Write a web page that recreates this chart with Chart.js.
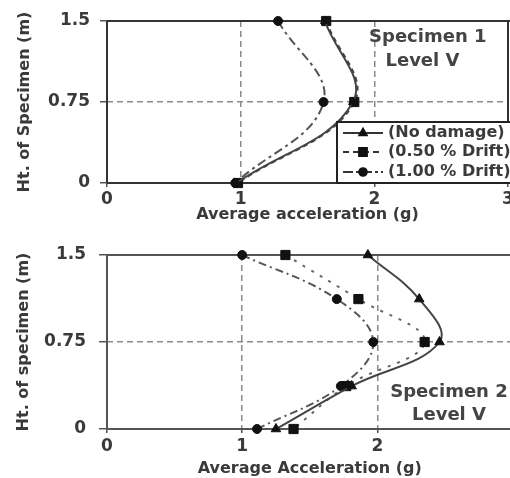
<!DOCTYPE html>
<html><head><meta charset="utf-8">
<script src="https://cdn.jsdelivr.net/npm/chart.js@4/dist/chart.umd.min.js"></script>
<style>
html,body{margin:0;padding:0;background:#fff;overflow:hidden;width:510px;height:478px;}
#wrap{position:relative;width:510px;height:478px;overflow:hidden;background:#fff;}
.box{position:absolute;left:0;}
#b1{top:0;width:520px;height:230px;}
#b2{top:230px;width:520px;height:248px;}
</style></head><body>
<div id="wrap">
<div class="box" id="b1"><canvas id="c1" width="520" height="230"></canvas></div>
<div class="box" id="b2"><canvas id="c2" width="520" height="248"></canvas></div>
</div>
<script>
// ---- data: Specimen 1 ----
const heights1 = [1.5, 0.75, 0];
const noDamage1 = [1.63, 1.84, 0.97];
const drift050_1 = [1.64, 1.85, 0.98];
const drift100_1 = [1.28, 1.62, 0.96];
// ---- data: Specimen 2 ----
const heights2 = [1.5, 1.12, 0.75, 0.37, 0];
const noDamage2 = [1.93, 2.31, 2.46, 1.81, 1.25];
const drift050_2 = [1.32, 1.86, 2.35, 1.77, 1.38];
const drift100_2 = [1.00, 1.70, 1.97, 1.73, 1.11];
// ---- ticks / labels ----
const xTicks = [0, 1, 2, 3];
const yTicks = [0, 0.75, 1.5];
const seriesNames = ['(No damage)', '(0.50 % Drift)', '(1.00 % Drift)'];

const FONT = 'DejaVu Sans';
const TXT = '#3a3a3a';

function pts(xs, ys) { return xs.map((v, i) => ({x: v, y: ys[i]})); }

function ds(label, xs, ys, style) {
  return Object.assign({
    label, data: pts(xs, ys), showLine: true, tension: 0.4,
    borderColor: '#444', borderWidth: 2, pointBackgroundColor: '#111',
    pointBorderColor: '#111', pointBorderWidth: 1, clip: false
  }, style);
}

const framePlugin = {
  id: 'frame',
  beforeDatasetsDraw(chart, args, opts) {
    const {ctx, chartArea: a} = chart;
    ctx.save();
    ctx.strokeStyle = opts.color; ctx.lineWidth = 2;
    ctx.beginPath();
    ctx.moveTo(a.left, a.top); ctx.lineTo(a.left, a.bottom);
    ctx.moveTo(a.left, a.top); ctx.lineTo(a.right + 10, a.top);
    ctx.moveTo(a.left, a.bottom); ctx.lineTo(a.right + 10, a.bottom);
    if (opts.right) { ctx.moveTo(a.right, a.top); ctx.lineTo(a.right, a.bottom); }
    ctx.stroke();
    ctx.restore();
  }
};

const notePlugin = {
  id: 'notes',
  afterDatasetsDraw(chart, args, opts) {
    const {ctx} = chart;
    const xs = chart.scales.x, ys = chart.scales.y;
    ctx.save();
    ctx.font = 'bold 18px "' + FONT + '"';
    ctx.fillStyle = '#444';
    ctx.textAlign = 'center'; ctx.textBaseline = 'middle';
    (opts.items || []).forEach(it => {
      ctx.fillText(it.text, xs.getPixelForValue(it.x), ys.getPixelForValue(it.y));
    });
    // legend
    if (opts.legend) {
      const a = chart.chartArea;
      const L = a.left + 230, T = a.bottom - 61;
      ctx.fillStyle = '#fff';
      ctx.fillRect(L, T, 200, 61);
      ctx.strokeStyle = '#222'; ctx.lineWidth = 2;
      ctx.strokeRect(L, T, 200, 61);
      const rows = [T + 11, T + 30, T + 50];
      chart.data.datasets.forEach((d, i) => {
        const y = rows[i];
        ctx.save();
        ctx.strokeStyle = '#333'; ctx.lineWidth = 2;
        ctx.setLineDash(opts.legendDash[i]);
        ctx.beginPath(); ctx.moveTo(L + 6, y); ctx.lineTo(L + 46, y); ctx.stroke();
        ctx.restore();
        ctx.fillStyle = '#111'; ctx.strokeStyle = '#111';
        Chart.helpers.drawPoint(ctx, {pointStyle: d.pointStyle, radius: d.pointRadius * 0.85, borderWidth: 1, rotation: 0}, L + 26, y);
        ctx.fillStyle = TXT; ctx.textAlign = 'left';
        ctx.font = 'bold 16px "' + FONT + '"';
        ctx.fillText(d.label, L + 51, y);
      });
    }
    ctx.restore();
  }
};

function makeChart(id, cfg) {
  const gridColor = (edges) => (c) => (c.tick && edges.includes(c.tick.value)) ? 'rgba(0,0,0,0)' : '#8a8a8a';
  return new Chart(document.getElementById(id), {
    type: 'scatter',
    data: {datasets: cfg.datasets},
    options: {
      responsive: false, animation: false, events: [],
      layout: {padding: cfg.padding},
      plugins: {
        legend: {display: false}, tooltip: {enabled: false},
        frame: {color: cfg.frameColor, right: cfg.rightBorder},
        notes: {items: cfg.notes, legend: cfg.legend, legendDash: [[], [6, 4], [10, 3, 3, 3]]}
      },
      scales: {
        x: {
          type: 'linear', min: 0, max: 3,
          afterBuildTicks: s => { s.ticks = xTicks.map(v => ({value: v})); },
          afterFit: s => { s.height = cfg.xAxisH; },
          ticks: {font: {family: FONT, size: 17, weight: 'bold'}, color: TXT, padding: cfg.xTickPad,
                  callback: v => (cfg.hideX.includes(v) ? '' : String(v))},
          grid: {color: gridColor([0, 3]), lineWidth: 1.5, tickLength: 4, tickColor: '#555', tickWidth: 1.5},
          border: {display: false, dash: [6, 4]},
          title: {display: true, text: cfg.xTitle, color: TXT,
                  font: {family: FONT, size: 16, weight: 'bold', lineHeight: 1}, padding: {top: 0, bottom: cfg.xTitlePad}}
        },
        y: {
          type: 'linear', min: 0, max: 1.5,
          afterBuildTicks: s => { s.ticks = yTicks.map(v => ({value: v})); },
          afterFit: s => { s.width = 107; },
          ticks: {font: {family: FONT, size: 17, weight: 'bold'}, color: TXT, padding: cfg.yTickPad,
                  callback: v => String(v)},
          grid: {color: gridColor([0, 1.5]), lineWidth: 1.5, tickLength: cfg.yTickLen, tickColor: '#555', tickWidth: 1.5},
          border: {display: false, dash: [6, 4]},
          title: {display: true, text: cfg.yTitle, color: TXT,
                  font: {family: FONT, size: 16, weight: 'bold', lineHeight: 1}, padding: {top: cfg.yTitlePad, bottom: 0}}
        }
      }
    },
    plugins: [framePlugin, notePlugin]
  });
}

makeChart('c1', {
  datasets: [
    ds(seriesNames[0], noDamage1, heights1, {pointStyle: 'triangle', pointRadius: 5}),
    ds(seriesNames[1], drift050_1, heights1, {pointStyle: 'rect', pointRadius: 6.5, borderDash: [5, 4]}),
    ds(seriesNames[2], drift100_1, heights1, {pointStyle: 'circle', pointRadius: 4.5, borderDash: [9, 4, 3, 4], borderColor: '#555'})
  ],
  padding: {top: 21, right: 12, left: 0, bottom: 0},
  xAxisH: 47, xTickPad: 2, xTitlePad: 7, yTickPad: 10, yTickLen: 7, yTitlePad: 17,
  hideX: [],
  xTitle: 'Average acceleration (g)', yTitle: 'Ht. of Specimen (m)',
  frameColor: '#333', rightBorder: true,
  notes: [{x: 2.40, y: 1.35, text: 'Specimen 1'}, {x: 2.36, y: 1.13, text: 'Level V'}],
  legend: true
});

makeChart('c2', {
  datasets: [
    ds(seriesNames[0], noDamage2, heights2, {pointStyle: 'triangle', pointRadius: 5.5}),
    ds(seriesNames[1], drift050_2, heights2, {pointStyle: 'rect', pointRadius: 6.5, borderDash: [3, 7], borderColor: '#666'}),
    ds(seriesNames[2], drift100_2, heights2, {pointStyle: 'circle', pointRadius: 4.5, borderDash: [8, 4, 2, 4], borderColor: '#555'})
  ],
  padding: {top: 25, right: 6.5, left: 0, bottom: 0},
  xAxisH: 49, xTickPad: 3, xTitlePad: 1, yTickPad: 13, yTickLen: 8, yTitlePad: 16,
  hideX: [3],
  xTitle: 'Average Acceleration (g)', yTitle: 'Ht. of specimen (m)',
  frameColor: '#555', rightBorder: false,
  notes: [{x: 2.53, y: 0.32, text: 'Specimen 2'}, {x: 2.53, y: 0.12, text: 'Level V'}],
  legend: false
});
</script>
</body></html>
